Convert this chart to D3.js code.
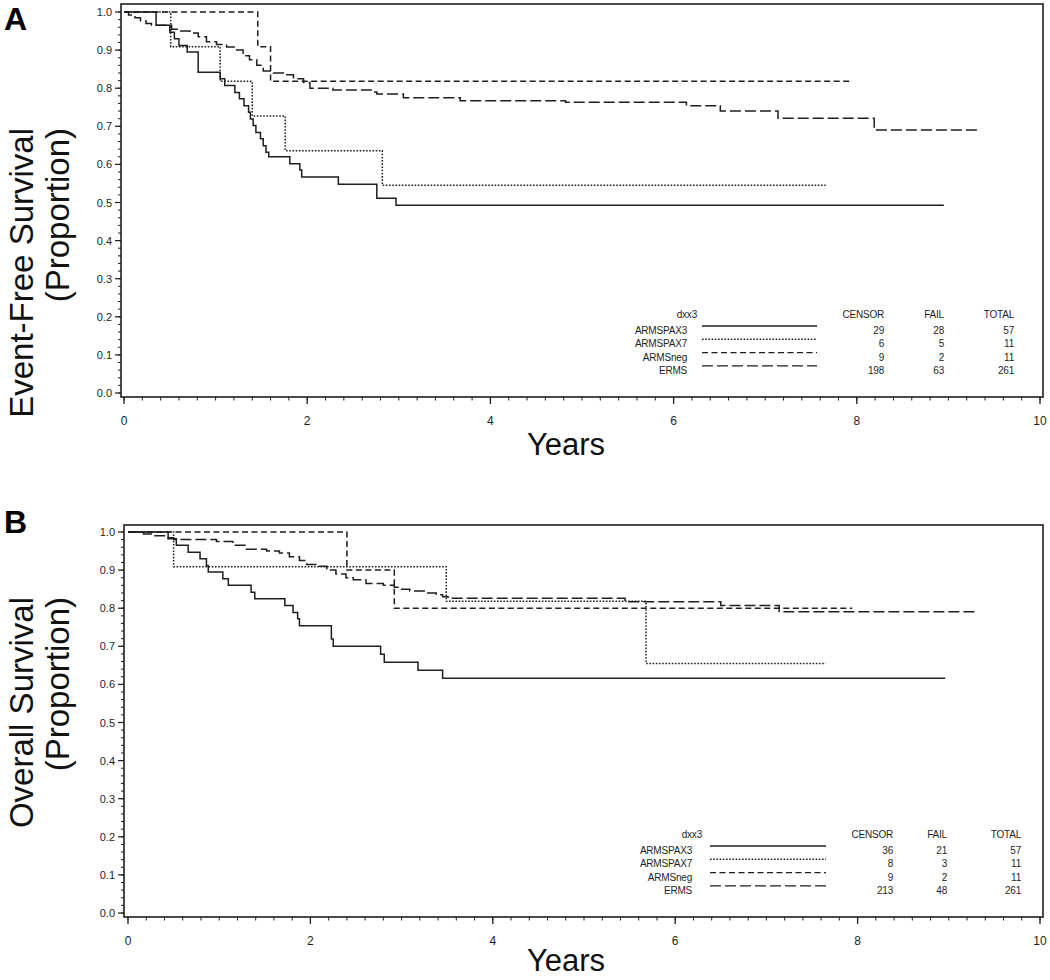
<!DOCTYPE html>
<html><head><meta charset="utf-8">
<script src="https://cdn.jsdelivr.net/npm/d3@7"></script>
<style>body{margin:0;background:#fff}svg{display:block}</style>
</head><body>
<script>
// ---------- DATA ----------
const groups = ["ARMSPAX3", "ARMSPAX7", "ARMSneg", "ERMS"];
const xTicks = [0, 2, 4, 6, 8, 10];
const yTicks = [0, 0.1, 0.2, 0.3, 0.4, 0.5, 0.6, 0.7, 0.8, 0.9, 1.0];

// Panel A: Event-free survival (step times in years, survival after step; last = end of follow-up)
const efsPax3T = [0, 0.35, 0.50, 0.55, 0.60, 0.69, 0.81, 1.05, 1.10, 1.21, 1.26, 1.31, 1.36, 1.38, 1.41, 1.44, 1.49, 1.52, 1.55, 1.58, 1.81, 1.92, 1.94, 2.34, 2.76, 2.97, 8.95];
const efsPax3S = [1, 0.965, 0.947, 0.930, 0.912, 0.895, 0.842, 0.825, 0.807, 0.789, 0.772, 0.754, 0.737, 0.719, 0.702, 0.684, 0.667, 0.649, 0.632, 0.620, 0.602, 0.585, 0.567, 0.548, 0.511, 0.493, 0.493];
const efsPax7T = [0, 0.51, 1.05, 1.40, 1.76, 2.82, 7.66];
const efsPax7S = [1, 0.909, 0.818, 0.727, 0.636, 0.545, 0.545];
const efsNegT = [0, 1.46, 1.60, 7.95];
const efsNegS = [1, 0.909, 0.818, 0.818];
const efsErmsT = [0, 0.05, 0.12, 0.18, 0.24, 0.30, 0.52, 0.61, 0.72, 0.81, 0.90, 1.01, 1.12, 1.23, 1.30, 1.37, 1.45, 1.52, 1.63, 1.77, 1.85, 1.96, 2.03, 2.28, 2.72, 2.76, 3.05, 3.67, 4.82, 6.14, 6.51, 7.14, 8.19, 9.32];
const efsErmsS = [1, 0.992, 0.985, 0.977, 0.970, 0.965, 0.955, 0.950, 0.945, 0.935, 0.922, 0.915, 0.908, 0.900, 0.885, 0.875, 0.860, 0.845, 0.840, 0.835, 0.825, 0.815, 0.800, 0.795, 0.790, 0.785, 0.775, 0.767, 0.763, 0.754, 0.740, 0.721, 0.690, 0.690];
const efsCensor = [29, 6, 9, 198];
const efsFail = [28, 5, 2, 63];
const efsTotal = [57, 11, 11, 261];

// Panel B: Overall survival
const osPax3T = [0, 0.44, 0.53, 0.66, 0.79, 0.86, 0.88, 1.04, 1.10, 1.35, 1.39, 1.72, 1.81, 1.86, 1.88, 2.23, 2.25, 2.77, 2.81, 3.18, 3.45, 8.96];
const osPax3S = [1, 0.982, 0.965, 0.947, 0.930, 0.912, 0.895, 0.877, 0.860, 0.842, 0.825, 0.807, 0.789, 0.772, 0.754, 0.719, 0.700, 0.679, 0.658, 0.637, 0.616, 0.616];
const osPax7T = [0, 0.50, 3.49, 5.68, 7.65];
const osPax7S = [1, 0.909, 0.818, 0.655, 0.655];
const osNegT = [0, 2.40, 2.92, 7.94];
const osNegS = [1, 0.900, 0.800, 0.800];
const osErmsT = [0, 0.17, 0.28, 0.42, 0.50, 0.97, 1.15, 1.30, 1.52, 1.66, 1.77, 1.88, 1.96, 2.07, 2.18, 2.28, 2.39, 2.47, 2.61, 2.80, 2.92, 2.98, 3.09, 3.27, 3.38, 3.45, 3.51, 5.45, 6.50, 7.14, 9.30];
const osErmsS = [1, 0.995, 0.990, 0.985, 0.980, 0.975, 0.965, 0.955, 0.950, 0.945, 0.935, 0.925, 0.915, 0.910, 0.900, 0.890, 0.880, 0.875, 0.865, 0.860, 0.855, 0.850, 0.845, 0.840, 0.835, 0.830, 0.826, 0.817, 0.807, 0.791, 0.791];
const osCensor = [36, 8, 9, 213];
const osFail = [21, 3, 2, 48];
const osTotal = [57, 11, 11, 261];

// ---------- STYLE ----------
const dashes = ["none", "1.6,1.6", "6,3.5", "11,4"];
const ink = "#1e1e1e";
const FONT = "Arial, 'Liberation Sans', Helvetica, sans-serif";

const svg = d3.select("body").append("svg").attr("width", 1050).attr("height", 980)
  .style("font-family", FONT);

function zip(T, S) { return T.map((t, i) => ({t: t, s: S[i]})); }

function panel(cfg) {
  const g = svg.append("g");
  const x = d3.scaleLinear().domain([0, 10]).range([cfg.xr0, cfg.xr1]);
  const y = d3.scaleLinear().domain([0, 1]).range([cfg.yr0, cfg.yr1]);
  const f = cfg.frame;

  // frame
  g.append("rect").attr("x", f[0]).attr("y", f[1]).attr("width", f[2] - f[0]).attr("height", f[3] - f[1])
    .attr("fill", "none").attr("stroke", ink).attr("stroke-width", 1.6);

  // y axis ticks
  const yMinor = d3.range(0, 1.0001, 0.02);
  g.selectAll(".ymin").data(yMinor).join("line")
    .attr("x1", f[0] - 3).attr("x2", f[0]).attr("y1", d => y(d)).attr("y2", d => y(d))
    .attr("stroke", ink).attr("stroke-width", 1);
  g.selectAll(".ymaj").data(yTicks).join("line")
    .attr("x1", f[0] - 6).attr("x2", f[0]).attr("y1", d => y(d)).attr("y2", d => y(d))
    .attr("stroke", ink).attr("stroke-width", 1.2);
  g.selectAll(".ylab").data(yTicks).join("text")
    .attr("x", f[0] - 9).attr("y", d => y(d) + 4).attr("text-anchor", "end")
    .attr("font-size", 11).attr("fill", ink).text(d => d3.format(".1f")(d));

  // x axis ticks
  const xMinor = d3.range(0, 10.0001, 0.2);
  g.selectAll(".xmin").data(xMinor).join("line")
    .attr("x1", d => x(d)).attr("x2", d => x(d)).attr("y1", f[3]).attr("y2", f[3] + 3.5)
    .attr("stroke", ink).attr("stroke-width", 1);
  g.selectAll(".xmaj").data(xTicks).join("line")
    .attr("x1", d => x(d)).attr("x2", d => x(d)).attr("y1", f[3]).attr("y2", f[3] + 7)
    .attr("stroke", ink).attr("stroke-width", 1.3);
  g.selectAll(".xlab").data(xTicks).join("text")
    .attr("x", d => x(d)).attr("y", f[3] + 28).attr("text-anchor", "middle")
    .attr("font-size", 12).attr("fill", ink).text(d => d);

  // curves
  const line = d3.line().x(d => x(d.t)).y(d => y(d.s)).curve(d3.curveStepAfter);
  cfg.series.forEach((sr, i) => {
    g.append("path").attr("d", line(zip(sr[0], sr[1])))
      .attr("fill", "none").attr("stroke", ink).attr("stroke-width", 1.5)
      .attr("stroke-dasharray", dashes[i]);
  });

  // titles
  g.append("text").attr("x", cfg.letterX).attr("y", cfg.letterY).attr("font-size", 32)
    .attr("font-weight", "bold").attr("fill", "#000").text(cfg.letter);
  g.append("text").attr("transform", `translate(33,${cfg.ytTop}) rotate(-90)`)
    .attr("text-anchor", "end").attr("font-size", 33).attr("fill", "#111").text(cfg.ytitle1);
  g.append("text").attr("transform", `translate(69,${cfg.ytTop}) rotate(-90)`)
    .attr("text-anchor", "end").attr("font-size", 33).attr("fill", "#111").text(cfg.ytitle2);
  g.append("text").attr("x", 566).attr("y", cfg.xtY).attr("text-anchor", "middle")
    .attr("font-size", 31).attr("fill", "#111").text("Years");

  // legend
  const L = cfg.legend;
  const lg = g.append("g").attr("font-size", 10).attr("fill", ink).style("letter-spacing", "-0.2px");
  lg.append("text").attr("x", L.nameR).attr("y", L.headY).attr("text-anchor", "end").text("dxx3");
  lg.append("text").attr("x", L.cR).attr("y", L.headY).attr("text-anchor", "end").text("CENSOR");
  lg.append("text").attr("x", L.fR).attr("y", L.headY).attr("text-anchor", "end").text("FAIL");
  lg.append("text").attr("x", L.tR).attr("y", L.headY).attr("text-anchor", "end").text("TOTAL");
  groups.forEach((name, i) => {
    const ry = L.row0 + i * L.dy;
    lg.append("text").attr("x", L.nameR - 10).attr("y", ry).attr("text-anchor", "end").text(name);
    lg.append("line").attr("x1", L.lx0).attr("x2", L.lx1).attr("y1", ry - 8).attr("y2", ry - 8)
      .attr("stroke", ink).attr("stroke-width", 1.4).attr("stroke-dasharray", dashes[i]);
    lg.append("text").attr("x", L.cR).attr("y", ry).attr("text-anchor", "end").text(L.censor[i]);
    lg.append("text").attr("x", L.fR).attr("y", ry).attr("text-anchor", "end").text(L.fail[i]);
    lg.append("text").attr("x", L.tR).attr("y", ry).attr("text-anchor", "end").text(L.total[i]);
  });
}

panel({
  frame: [121, 4, 1043, 397], xr0: 124, xr1: 1040, yr0: 393, yr1: 12,
  letter: "A", letterX: 4, letterY: 30, ytTop: 128, xtY: 455,
  ytitle1: "Event-Free Survival", ytitle2: "(Proportion)",
  series: [[efsPax3T, efsPax3S], [efsPax7T, efsPax7S], [efsNegT, efsNegS], [efsErmsT, efsErmsS]],
  legend: {nameR: 697, headY: 318, row0: 334, dy: 13.3, lx0: 702, lx1: 817, cR: 884, fR: 944, tR: 1014,
    censor: efsCensor, fail: efsFail, total: efsTotal}
});

panel({
  frame: [124, 525, 1043, 917], xr0: 128, xr1: 1040, yr0: 913, yr1: 532,
  letter: "B", letterX: 4, letterY: 533, ytTop: 597, xtY: 971,
  ytitle1: "Overall Survival", ytitle2: "(Proportion)",
  series: [[osPax3T, osPax3S], [osPax7T, osPax7S], [osNegT, osNegS], [osErmsT, osErmsS]],
  legend: {nameR: 702, headY: 838, row0: 854, dy: 13.3, lx0: 710, lx1: 826, cR: 893, fR: 947, tR: 1021,
    censor: osCensor, fail: osFail, total: osTotal}
});
</script>
</body></html>
